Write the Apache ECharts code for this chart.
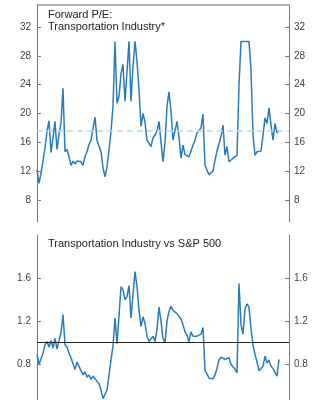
<!DOCTYPE html>
<html>
<head>
<meta charset="utf-8">
<script src="https://cdn.jsdelivr.net/npm/echarts@6/dist/echarts.min.js"></script>
<style>
html,body{margin:0;padding:0;background:#fff;}
#chart{width:324px;height:400px;}
</style>
</head>
<body>
<div id="chart"></div>
<script>
// Forward P/E: Transportation Industry (capped at 30)
var peValues = [12.2,10.3,11.7,13.4,15.2,17.5,19.0,14.6,16.6,18.9,15.0,17.1,18.7,23.5,14.7,15.0,14.0,12.8,13.4,13.0,
13.4,13.5,13.3,12.8,14.0,14.7,15.7,16.3,16.1,19.5,16.3,16.5,14.7,12.5,11.2,12.6,15.0,17.5,21.0,30.0,
21.4,22.4,25.5,26.8,21.7,25.8,30.0,21.7,26.5,30.0,27.2,23.3,18.2,20.0,18.8,16.3,16.5,15.4,16.6,16.7,
17.5,18.9,16.0,13.3,16.0,21.0,23.0,20.3,16.3,17.6,18.9,16.7,13.8,15.6,14.3,14.4,14.0,14.8,15.6,16.3,
17.3,17.5,18.0,19.9,12.8,12.6,11.5,11.6,12.0,13.5,14.8,15.8,16.8,18.4,14.2,15.4,13.3,13.4,13.8,14.0,
14.2,24.0,30.0,30.0,30.0,30.0,30.0,26.0,17.0,14.2,14.7,14.7,14.8,17.0,19.4,18.6,20.8,18.4,16.3,18.6,
17.3,17.6];
var peAverage = 17.6;
var peTicks = [8,12,16,20,24,28,32];

// Relative P/E: Transportation Industry vs S&P 500
var relValues = [0.89,0.80,0.80,0.90,0.98,1.01,0.96,1.02,0.95,1.04,0.94,1.02,1.09,1.26,0.98,0.96,0.90,0.86,0.85,0.75,
0.82,0.78,0.74,0.70,0.73,0.68,0.70,0.66,0.69,0.68,0.64,0.62,0.56,0.48,0.47,0.56,0.70,0.84,0.97,1.23,
0.99,1.25,1.52,1.49,1.40,1.43,1.53,1.23,1.45,1.66,1.52,1.30,1.15,1.24,1.18,1.06,1.01,1.02,1.06,1.01,
1.12,1.33,1.20,1.04,1.00,1.20,1.29,1.34,1.30,1.29,1.27,1.27,1.22,1.165,1.10,1.07,1.01,1.10,1.06,1.05,
1.06,1.07,1.08,1.14,0.74,0.71,0.67,0.685,0.665,0.70,0.76,0.84,0.865,0.88,0.845,0.86,0.86,0.80,0.775,0.755,
0.72,1.55,1.17,1.08,1.31,1.36,1.33,1.13,0.98,0.89,0.82,0.74,0.74,0.78,0.875,0.81,0.84,0.78,0.76,0.76,
0.69,0.845];
var relBaseline = 1.0;
var relTicks = [0.8,1.2,1.6];

var titleTop = "Forward P/E:\nTransportation Industry*";
var titleBottom = "Transportation Industry vs S&P 500";

var FONT = "Liberation Sans, Arial, sans-serif";
var LINE = "#2a7bbb";
var AXIS = "#7a7a7a";
var LABEL = "#444";

function pairs(arr){ return arr.map(function(v,i){ return [i, v]; }); }

function yAx(gi, pos, min, max, ticks){
  return {
    type:'value', gridIndex:gi, position:pos, min:min, max:max,
    axisLine:{show:true, lineStyle:{color:AXIS, width:1}},
    axisTick:{show:true, inside:true, length:4, lineStyle:{color:AXIS}, customValues:ticks},
    axisLabel:{show:true, inside:false, margin: pos==='left'?6:5, color:LABEL, fontSize:10, fontFamily:FONT, customValues:ticks},
    splitLine:{show:false}
  };
}

var chart = echarts.init(document.getElementById('chart'), null, {renderer:'canvas'});
chart.setOption({
  animation:false,
  backgroundColor:'#fff',
  title:[
    {text:titleTop, left:48, top:9, padding:0, textStyle:{fontSize:11, fontWeight:'normal', color:'#222', fontFamily:FONT, lineHeight:12}},
    {text:titleBottom, left:48, top:238, padding:0, textStyle:{fontSize:11, fontWeight:'normal', color:'#222', fontFamily:FONT, lineHeight:12}}
  ],
  grid:[
    {left:37, right:35, top:5, height:217},
    {left:37, right:35, top:235, height:165}
  ],
  xAxis:[
    {type:'value', gridIndex:0, min:0, max:126, position:'top',
     axisLine:{show:true, onZero:false, lineStyle:{color:'#9a9a9a', width:1.5}},
     axisTick:{show:false}, axisLabel:{show:false}, splitLine:{show:false}},
    {type:'value', gridIndex:1, min:0, max:126, show:false}
  ],
  yAxis:[
    yAx(0,'left',4.95,35.05,peTicks),
    yAx(0,'right',4.95,35.05,peTicks),
    yAx(1,'left',0.4675,2.0,relTicks),
    yAx(1,'right',0.4675,2.0,relTicks)
  ],
  series:[
    {type:'line', xAxisIndex:0, yAxisIndex:0, data:pairs(peValues), showSymbol:false,
     lineStyle:{color:LINE, width:1.5}, itemStyle:{color:LINE},
     markLine:{silent:true, symbol:['none','none'], label:{show:false},
       lineStyle:{color:'#b3dbec', type:[6,4], width:1.5},
       data:[{yAxis:peAverage}]},
     z:3},
    {type:'line', xAxisIndex:1, yAxisIndex:2, data:pairs(relValues), showSymbol:false,
     lineStyle:{color:LINE, width:1.5}, itemStyle:{color:LINE},
     markLine:{silent:true, symbol:['none','none'], label:{show:false},
       lineStyle:{color:'#222', type:'solid', width:1.2},
       data:[{yAxis:relBaseline}]},
     z:3}
  ]
});
</script>
</body>
</html>
